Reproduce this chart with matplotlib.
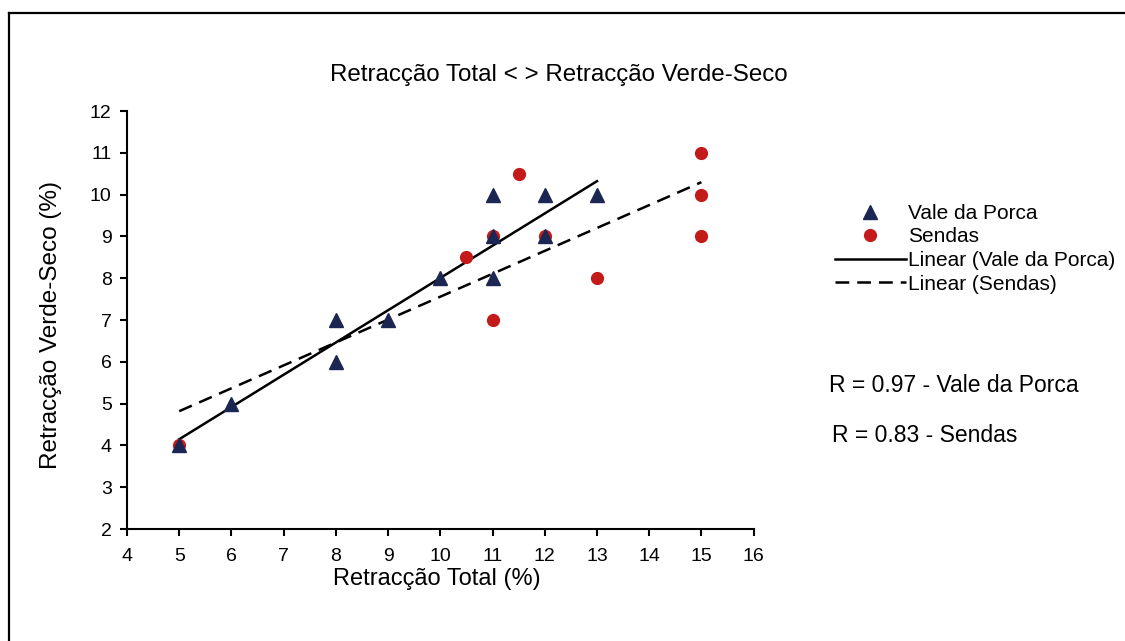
import numpy as np
import matplotlib
matplotlib.use("Agg")
import matplotlib.pyplot as plt
from matplotlib.lines import Line2D

plt.rcParams['font.family'] = ['Liberation Sans', 'DejaVu Sans']

# Vale da Porca samples
vp_total = [5, 6, 8, 8, 9, 10, 11, 11, 11, 12, 12, 13]
vp_verde = [4, 5, 7, 6, 7, 8, 10, 9, 8, 10, 9, 10]

# Sendas samples
se_total = [5, 10.5, 11, 11, 11.5, 12, 13, 15, 15, 15]
se_verde = [4, 8.5, 9, 7, 10.5, 9, 8, 11, 10, 9]

r_vp = 0.97
r_se = 0.83

navy = '#1c2652'
red = '#c41a1a'
dash = (0, (5.5, 3.2))

fig = plt.figure(figsize=(11.25, 6.41), dpi=100)
ax = fig.add_axes([0.1129, 0.1747, 0.557, 0.652])

# linear trend lines
for xs, ys, ls in [(vp_total, vp_verde, '-'), (se_total, se_verde, dash)]:
    k, b = np.polyfit(xs, ys, 1)
    xx = np.array([min(xs), max(xs)])
    ax.plot(xx, k * xx + b, color='black', lw=1.8, linestyle=ls, zorder=2)

ax.plot(se_total, se_verde, 'o', color=red, ms=8.5, mec=red, zorder=3)
ax.plot(vp_total, vp_verde, '^', color=navy, ms=10.5, mec=navy, zorder=4)

ax.set_xlim(4, 16)
ax.set_ylim(2, 12)
ax.set_xticks(range(4, 17))
ax.set_yticks(range(2, 13))
ax.tick_params(direction='out', length=5, width=1.5, labelsize=14, pad=6)
ax.tick_params(axis='x', pad=9)
for s in ['top', 'right']:
    ax.spines[s].set_visible(False)
for s in ['left', 'bottom']:
    ax.spines[s].set_linewidth(1.5)

fig.text(0.497, 0.883, 'Retracção Total < > Retracção Verde-Seco',
         ha='center', va='center', fontsize=17.4)
fig.text(0.388, 0.097, 'Retracção Total (%)', ha='center', va='center', fontsize=17)
fig.text(0.045, 0.493, 'Retracção Verde-Seco (%)', ha='center', va='center',
         fontsize=17.5, rotation=90)

handles = [
    Line2D([], [], marker='^', color=navy, ls='none', ms=10.5),
    Line2D([], [], marker='o', color=red, ls='none', ms=8.5),
    Line2D([], [], color='black', lw=1.8),
    Line2D([], [], color='black', lw=1.8, ls=dash),
]
labels = ['Vale da Porca', 'Sendas', 'Linear (Vale da Porca)', 'Linear (Sendas)']
fig.legend(handles, labels, loc='upper left', bbox_to_anchor=(0.742, 0.682),
           frameon=False, fontsize=15, handlelength=3.4, handletextpad=0.1,
           labelspacing=0.22, borderpad=0, borderaxespad=0, numpoints=1)

fig.text(0.737, 0.398, f'R = {r_vp:.2f} - Vale da Porca', ha='left', va='center', fontsize=16.5)
fig.text(0.740, 0.320, f'R = {r_se:.2f} - Sendas', ha='left', va='center', fontsize=16.5)

# outer frame, top and left edges
fig.add_artist(Line2D([9 / 1125, 1.0], [1 - 13 / 641, 1 - 13 / 641],
                      transform=fig.transFigure, color='black', lw=1.6))
fig.add_artist(Line2D([9 / 1125, 9 / 1125], [0.0, 1 - 13 / 641],
                      transform=fig.transFigure, color='black', lw=1.6))

fig.savefig('out.png', dpi=100)
